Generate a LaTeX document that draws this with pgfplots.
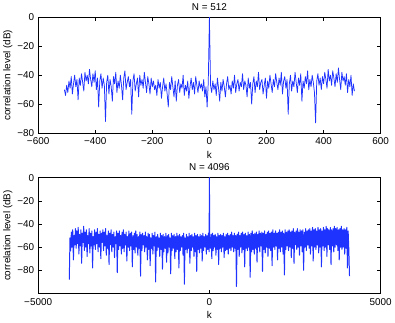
\documentclass[border=0pt]{standalone}
\usepackage{fontspec}
\setmainfont{Liberation Sans}
\usepackage{pgfplots}
\pgfplotsset{compat=1.18}
\definecolor{mblue}{rgb}{0.12,0.2,1}
\pgfplotstableread{
x y
-508 -50
-504 -54
-500 -47
-496 -52
-492 -44
-488 -49
-484 -41
-480 -53
-476 -46
-472 -40
-468 -48
-464 -43
-460 -57
-456 -42
-452 -47
-448 -39
-444 -45
-440 -51
-436 -38
-432 -44
-428 -40
-424 -46
-420 -36
-416 -43
-412 -48
-408 -39
-404 -45
-400 -37
-396 -50
-392 -42
-388 -62
-384 -44
-380 -39
-376 -49
-372 -42
-368 -47
-364 -72
-360 -45
-356 -40
-352 -53
-348 -43
-344 -48
-340 -58
-336 -41
-332 -46
-328 -38
-324 -52
-320 -44
-316 -49
-312 -40
-308 -47
-304 -57
-300 -42
-296 -37
-292 -50
-288 -45
-284 -41
-280 -48
-276 -43
-272 -67
-268 -44
-264 -39
-260 -51
-256 -46
-252 -42
-248 -55
-244 -40
-240 -47
-236 -43
-232 -49
-228 -38
-224 -45
-220 -52
-216 -41
-212 -46
-208 -53
-204 -42
-200 -48
-196 -44
-192 -50
-188 -47
-184 -54
-180 -43
-176 -49
-172 -45
-168 -56
-164 -48
-160 -42
-156 -51
-152 -46
-148 -53
-144 -62
-140 -45
-136 -50
-132 -41
-128 -48
-124 -55
-120 -44
-116 -58
-112 -47
-108 -43
-104 -52
-100 -46
-96 -49
-92 -40
-88 -54
-84 -47
-80 -51
-76 -44
-72 -56
-68 -48
-64 -42
-60 -50
-56 -45
-52 -53
-48 -41
-44 -47
-40 -52
-36 -44
-32 -49
-28 -46
-24 -51
-20 -43
-16 -55
-12 -48
-8 -62
-4 -45
0 0
4 -47
8 -52
12 -44
16 -50
20 -46
24 -54
28 -42
32 -49
36 -58
40 -45
44 -51
48 -43
52 -48
56 -55
60 -46
64 -41
68 -50
72 -47
76 -53
80 -44
84 -49
88 -40
92 -52
96 -46
100 -43
104 -51
108 -45
112 -48
116 -39
120 -50
124 -44
128 -47
132 -55
136 -42
140 -49
144 -45
148 -60
152 -46
156 -41
160 -52
164 -44
168 -48
172 -38
176 -50
180 -45
184 -43
188 -53
192 -47
196 -42
200 -56
204 -44
208 -49
212 -40
216 -46
220 -52
224 -43
228 -48
232 -39
236 -45
240 -50
244 -42
248 -47
252 -38
256 -53
260 -44
264 -41
268 -49
272 -43
276 -67
280 -46
284 -40
288 -51
292 -44
296 -48
300 -38
304 -45
308 -52
312 -42
316 -47
320 -39
324 -58
328 -44
332 -49
336 -41
340 -46
344 -37
348 -50
352 -43
356 -48
360 -40
364 -45
368 -52
372 -73
376 -44
380 -39
384 -47
388 -42
392 -50
396 -41
400 -46
404 -38
408 -43
412 -49
416 -36
420 -44
424 -40
428 -47
432 -37
436 -42
440 -48
444 -39
448 -45
452 -35
456 -43
460 -50
464 -38
468 -44
472 -41
476 -47
480 -39
484 -52
488 -43
492 -48
496 -40
500 -54
504 -46
508 -51
}\smalltable
\pgfplotstableread{
x y
-4090 -88
-4070 -52
-4050 -63
-4030 -47
-4010 -60
-3990 -45
-3970 -71
-3950 -50
-3930 -58
-3910 -44
-3890 -61
-3870 -46
-3850 -57
-3830 -43
-3810 -66
-3790 -49
-3770 -59
-3750 -45
-3730 -74
-3710 -48
-3690 -56
-3670 -42
-3650 -63
-3630 -47
-3610 -60
-3590 -45
-3570 -68
-3550 -50
-3530 -57
-3510 -44
-3490 -65
-3470 -48
-3450 -59
-3430 -46
-3410 -78
-3390 -51
-3370 -58
-3350 -45
-3330 -62
-3310 -47
-3290 -57
-3270 -44
-3250 -64
-3230 -49
-3210 -60
-3190 -46
-3170 -70
-3150 -48
-3130 -56
-3110 -45
-3090 -63
-3070 -47
-3050 -59
-3030 -44
-3010 -67
-2990 -50
-2970 -61
-2950 -46
-2930 -75
-2910 -48
-2890 -58
-2870 -45
-2850 -64
-2830 -49
-2810 -60
-2790 -47
-2770 -69
-2750 -51
-2730 -57
-2710 -46
-2690 -82
-2670 -48
-2650 -62
-2630 -46
-2610 -59
-2590 -50
-2570 -66
-2550 -47
-2530 -61
-2510 -45
-2490 -64
-2470 -49
-2450 -58
-2430 -47
-2410 -72
-2390 -51
-2370 -60
-2350 -46
-2330 -63
-2310 -48
-2290 -59
-2270 -47
-2250 -77
-2230 -50
-2210 -62
-2190 -48
-2170 -65
-2150 -46
-2130 -60
-2110 -49
-2090 -67
-2070 -51
-2050 -61
-2030 -47
-2010 -85
-1990 -49
-1970 -63
-1950 -48
-1930 -58
-1910 -50
-1890 -64
-1870 -47
-1850 -60
-1830 -51
-1810 -71
-1790 -48
-1770 -62
-1750 -49
-1730 -76
-1710 -52
-1690 -61
-1670 -48
-1650 -66
-1630 -50
-1610 -59
-1590 -47
-1570 -90
-1550 -51
-1530 -63
-1510 -49
-1490 -60
-1470 -52
-1450 -68
-1430 -48
-1410 -62
-1390 -50
-1370 -79
-1350 -49
-1330 -64
-1310 -51
-1290 -61
-1270 -48
-1250 -73
-1230 -50
-1210 -65
-1190 -49
-1170 -60
-1150 -52
-1130 -83
-1110 -48
-1090 -63
-1070 -50
-1050 -61
-1030 -49
-1010 -70
-990 -51
-970 -64
-950 -48
-930 -62
-910 -50
-890 -78
-870 -49
-850 -63
-830 -51
-810 -60
-790 -50
-770 -67
-750 -48
-730 -92
-710 -52
-690 -62
-670 -49
-650 -65
-630 -51
-610 -61
-590 -48
-570 -74
-550 -50
-530 -63
-510 -49
-490 -60
-470 -51
-450 -68
-430 -48
-410 -64
-390 -50
-370 -81
-350 -49
-330 -62
-310 -51
-290 -65
-270 -49
-250 -61
-230 -50
-210 -72
-190 -48
-170 -63
-150 -51
-130 -60
-110 -49
-90 -66
-70 -50
-50 -62
-30 -48
-10 -64
0 0
10 -51
30 -61
50 -49
70 -70
90 -48
110 -63
130 -50
150 -60
170 -49
190 -67
210 -51
230 -62
250 -48
270 -75
290 -50
310 -61
330 -49
350 -64
370 -50
390 -60
410 -48
430 -69
450 -51
470 -63
490 -49
510 -62
530 -48
550 -66
570 -50
590 -61
610 -49
630 -63
650 -47
670 -60
690 -50
710 -64
730 -48
750 -61
770 -50
790 -94
810 -49
830 -62
850 -47
870 -68
890 -50
910 -60
930 -48
950 -65
970 -47
990 -62
1010 -49
1030 -77
1050 -48
1070 -61
1090 -50
1110 -63
1130 -47
1150 -60
1170 -49
1190 -86
1210 -48
1230 -64
1250 -46
1270 -62
1290 -49
1310 -66
1330 -48
1350 -61
1370 -47
1390 -73
1410 -49
1430 -60
1450 -46
1470 -64
1490 -48
1510 -59
1530 -47
1550 -81
1570 -48
1590 -62
1610 -46
1630 -65
1650 -49
1670 -60
1690 -47
1710 -68
1730 -46
1750 -61
1770 -48
1790 -63
1810 -47
1830 -76
1850 -45
1870 -60
1890 -48
1910 -62
1930 -46
1950 -59
1970 -48
1990 -71
2010 -47
2030 -61
2050 -45
2070 -64
2090 -47
2110 -60
2130 -46
2150 -66
2170 -48
2190 -84
2210 -45
2230 -62
2250 -47
2270 -59
2290 -46
2310 -63
2330 -45
2350 -60
2370 -47
2390 -69
2410 -46
2430 -61
2450 -44
2470 -74
2490 -47
2510 -58
2530 -46
2550 -62
2570 -44
2590 -60
2610 -47
2630 -67
2650 -45
2670 -59
2690 -46
2710 -64
2730 -45
2750 -80
2770 -47
2790 -60
2810 -44
2830 -63
2850 -46
2870 -58
2890 -45
2910 -61
2930 -44
2950 -66
2970 -46
2990 -59
3010 -43
3030 -72
3050 -45
3070 -60
3090 -44
3110 -62
3130 -46
3150 -58
3170 -43
3190 -65
3210 -45
3230 -60
3250 -44
3270 -77
3290 -46
3310 -59
3330 -43
3350 -63
3370 -45
3390 -60
3410 -42
3430 -68
3450 -44
3470 -58
3490 -45
3510 -62
3530 -43
3550 -75
3570 -45
3590 -59
3610 -44
3630 -64
3650 -42
3670 -60
3690 -44
3710 -58
3730 -43
3750 -63
3770 -45
3790 -71
3810 -44
3830 -60
3850 -42
3870 -62
3890 -45
3910 -60
3930 -44
3950 -66
3970 -45
3990 -61
4010 -43
4030 -78
4050 -46
4070 -62
4090 -85
}\bigtable
\begin{document}
\fontsize{10bp}{12bp}\selectfont
\begin{tikzpicture}
\pgfplotsset{
  every axis/.append style={
    scale only axis, width=346bp, height=117bp,
    tick align=inside, major tick length=3.5bp,
    axis line style={line width=0.6bp},
    every tick/.style={black, line width=0.5bp},
    xticklabel style={yshift=-1.5bp},
    yticklabel style={xshift=-0.5bp},
    xlabel style={yshift=0.5bp},
    ylabel style={yshift=-2bp},
    title style={yshift=-2.5bp},
  }
}
\begin{axis}[
  xmin=-600, xmax=600, ymin=-80, ymax=0,
  xtick={-600,-400,-200,0,200,400,600},
  xticklabels={−600,−400,−200,0,200,400,600},
  ytick={-80,-60,-40,-20,0},
  yticklabels={−80,−60,−40,−20,0},
  title={N = 512}, xlabel={k}, ylabel={correlation level (dB)},
]
\addplot[mblue, line width=0.75bp, line join=round] table[x=x,y=y] {\smalltable};
\end{axis}
\begin{axis}[
  at={(0,-162bp)},
  xmin=-5000, xmax=5000, ymin=-100, ymax=0,
  xtick={-5000,0,5000},
  xticklabels={−5000,0,5000},
  ytick={-80,-60,-40,-20,0},
  yticklabels={−80,−60,−40,−20,0},
  title={N = 4096}, xlabel={k}, ylabel={correlation level (dB)},
]
\addplot[mblue, line width=1bp, line join=round] table[x=x,y=y] {\bigtable};
\end{axis}
\end{tikzpicture}
\end{document}
